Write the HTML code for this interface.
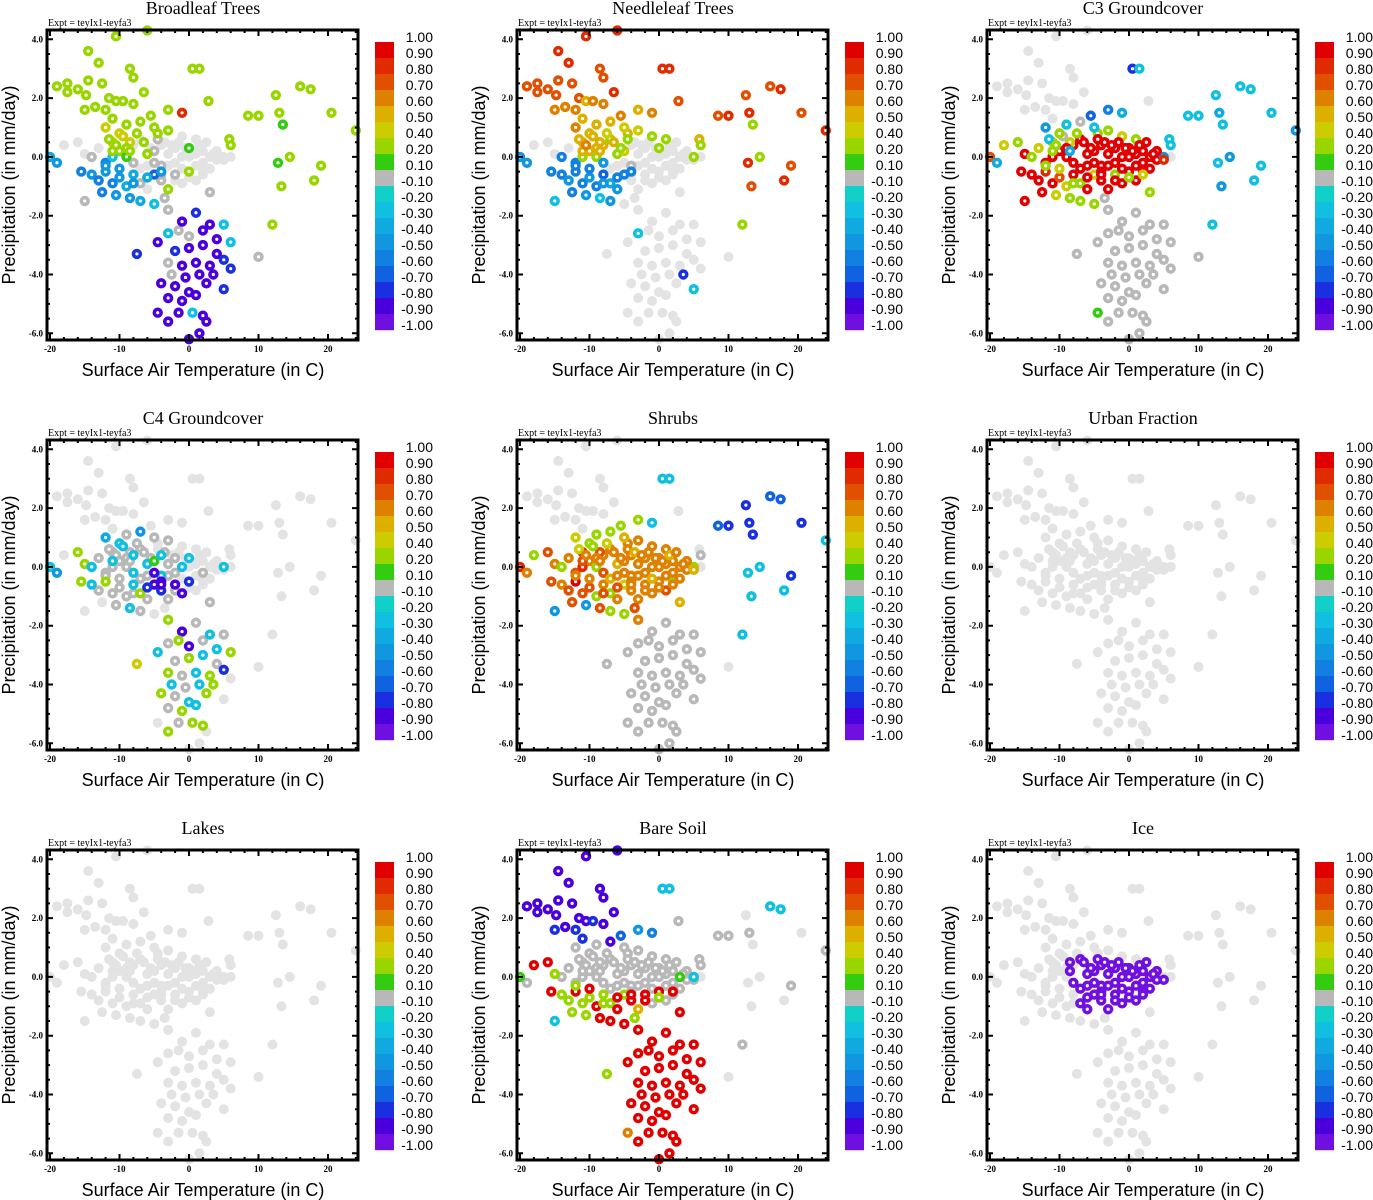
<!DOCTYPE html>
<html><head><meta charset="utf-8"><style>
html,body{margin:0;padding:0;background:#fff;}
svg{display:block;}
</style></head><body>
<svg id="fig" width="1373" height="1200" xmlns="http://www.w3.org/2000/svg"></svg>
<script>
const N = null;
// point cloud: surface air temperature (C) and precipitation (mm/day)
const temps = [
-19,-17.5,-16,-14.5,-14.5,-13,-12.5,-11.5,-10.5,-8.5,-8,-6.5,-6,-15,-13.5,-12,-10.5,-9.5,-8,-17.5,-14.8,-11,-5.5,-3,-1,0.5,1.5,2.8,-4.5,
-20,-19,-18,-16,-15,-14,-13,-12,-11,-10,-9,-8,-7,-6,-5,-4,-3,-2,-1,0,1,2,3,4,5,6,
-15.5,-14,-13,-12,-11,-10,-9,-8,-7,-6,-5,-4,-3,-2,-1,0,1,2,3,
-12.5,-10.5,-8.5,-7,-5,-3.5,-15,
-12,-10,-9,-7,-5,-3,-1,1,-8.5,-11,-4,
-3,-1,1,3,5,-4.5,-3,-1.5,0,2,4,6,-2,0,2,4,-7.5,-3,-1,1,3,5,-2.5,-0.5,1.5,3.5,6,-4,-2,0,2.5,5,-3,-1,1,-1.5,0.5,2,-4.5,-3,2.5,1.5,0,
8.5,10,12.5,13,13.5,16,17.5,20.5,24,14.5,12.8,19,18,13.3,12,10,5.8,6,
-12,-11,-10,-9,-8,-7,-6,-5,-4,-3,-2,-1,0,1,2,3,4,5,
-11.5,-10.5,-9.5,-8.5,-7.5,-6.5,-5.5,-4.5,-3.5,-2.5,-1.5,-0.5,0.5,1.5,2.5,3.5,
-6,-4,-2,0,2,-8
];
const precs = [
2.4,2.5,2.3,3.6,2.6,3.2,2.5,2.0,4.1,3.0,2.7,2.2,4.3,1.6,1.7,1.6,1.9,1.9,1.8,2.2,2.1,1.3,1.4,1.6,1.5,3.0,3.0,1.9,0.8,
0.0,-0.2,0.4,0.5,0.1,0.0,0.3,-0.2,0.5,0.2,0.0,0.4,0.6,0.1,0.2,0.4,0.1,0.3,0.0,0.3,0.1,0.2,0.0,-0.1,0.0,0.0,
-0.5,-0.6,-0.8,-0.5,-0.9,-0.7,-1.0,-0.6,-0.9,-1.1,-0.6,-0.8,-1.1,-0.6,-0.9,-0.5,-0.8,-0.5,-1.2,
-1.2,-1.3,-1.4,-1.5,-1.6,-1.4,-1.5,
1.0,0.8,1.1,1.2,1.0,0.9,0.7,0.6,0.5,0.0,-0.3,
-1.8,-2.2,-1.9,-2.3,-2.3,-2.9,-2.6,-2.5,-2.7,-2.5,-2.8,-2.9,-3.2,-3.1,-3.0,-3.3,-3.3,-3.6,-3.7,-3.6,-3.7,-3.5,-4.0,-4.1,-4.0,-4.0,-3.8,-4.3,-4.4,-4.6,-4.3,-4.5,-4.8,-4.9,-4.7,-5.3,-5.3,-5.4,-5.3,-5.6,-5.6,-6.0,-6.2,
1.4,1.4,2.1,1.5,1.1,2.4,2.3,1.5,0.9,0.0,-0.2,-0.3,-0.8,-1.0,-2.3,-3.4,0.6,0.4,
-0.3,0.2,-0.4,0.3,-0.2,-0.4,-0.3,-0.2,-0.5,-0.3,-0.2,-0.4,0.0,-0.3,-0.2,-0.4,0.2,-0.1,
0.6,0.4,0.7,0.2,0.8,0.5,0.3,0.6,0.5,0.4,0.5,0.3,0.2,0.4,0.5,0.1,
-0.7,-0.6,-0.8,-0.7,-0.6,-0.9
];
const broadleaf = [
.3,.3,.3,.3,.3,.3,.3,.3,.3,.3,.3,.3,.3,.3,.3,.3,.3,.3,.3,.3,.3,.2,.2,.3,.8,.3,.3,.3,.3,
-.4,-.5,N,N,N,0,N,-.6,.4,.3,.1,N,N,.2,0,N,N,N,N,.1,N,N,N,N,N,N,
-.6,-.5,-.6,-.5,-.6,-.5,-.4,-.4,0,N,-.7,0,.2,0,N,.3,N,N,0,
-.6,-.5,-.5,-.4,-.3,0,0,
.4,.4,.3,.3,.2,.2,N,N,.4,-.3,0,
0,-.9,-.8,-.9,-.3,-.9,-.3,0,0,-.9,-.9,-.3,-.8,-.9,-.9,-.9,-.8,0,-.9,-.9,-.9,-.8,0,-.9,-.9,-.9,-.8,-.9,-.9,-.9,-.9,-.8,-.9,-.9,-.9,-.9,-.3,-.9,-.9,-.9,-.9,-.9,-.9,
.3,.3,.3,.3,.1,.3,.3,.3,.3,.3,.1,.3,.3,.3,.3,0,.3,.3,
-.5,.3,-.5,.3,0,N,N,0,-.5,N,N,N,N,N,N,N,N,N,
.3,.3,.4,.3,.3,.3,N,0,N,N,N,N,N,N,N,N,
-.4,0,N,N,N,-.5
];
const needleleaf = [
.7,.7,.7,.8,.7,.8,.7,.7,.8,.7,.7,.8,.8,.6,.6,.6,.5,.6,.6,.7,.7,.5,.6,.5,.6,.8,.8,.7,.5,
-.5,-.5,N,N,N,-.6,N,-.6,.5,.5,.3,.5,.3,.2,.4,N,N,N,N,.3,N,N,N,N,.3,N,
-.6,-.6,-.5,-.6,-.6,-.5,-.6,-.7,-.4,-.5,-.6,N,N,N,N,N,N,N,N,
-.6,-.5,-.3,-.5,N,N,-.3,
.6,.5,.5,.5,.4,.4,.3,.2,.5,.2,0,
N,N,N,N,N,N,-.3,N,N,N,N,N,N,N,N,N,N,N,N,N,N,N,N,N,N,-.8,N,N,N,N,N,-.3,N,N,N,N,N,N,N,N,N,N,N,
.7,.8,.7,.8,.3,.7,.8,.7,.8,.3,.8,.7,.8,.7,.2,N,.5,.3,
-.6,.5,-.6,.5,-.5,N,N,N,-.6,N,N,N,N,N,N,N,N,N,
.5,.6,.5,.5,.4,.5,.3,.2,N,N,N,N,N,N,N,N,
-.6,N,N,N,N,-.5
];
const c3ground = [
N,N,N,N,N,N,N,N,N,N,N,N,N,N,N,N,N,N,N,N,N,N,-.7,-.6,-.4,-.8,-.3,N,.2,
.7,-.4,.4,.2,.9,.2,.4,.9,.4,.9,.9,.9,.9,.9,.9,.9,.9,.9,.9,.9,.9,.9,.9,.9,-.5,N,
.9,.9,.9,.8,.9,.7,.4,.9,.2,.9,.4,.9,.9,.3,.9,.9,.9,.9,.3,
.9,.4,.2,.3,.3,0,.9,
-.5,.3,-.3,0,-.3,.2,.4,.3,.4,.9,.9,
0,0,0,0,0,0,0,0,0,0,0,0,0,0,0,0,0,0,0,0,0,0,0,0,0,0,0,0,0,0,0,0,0,0,0,0,0,0,.1,0,0,0,0,
-.3,-.3,-.3,-.4,-.3,-.3,-.3,-.3,-.5,-.5,-.3,-.3,-.3,-.5,-.3,0,-.3,-.3,
.3,.2,.4,.9,.9,.9,.9,.9,.9,.9,.9,.9,.9,.9,.9,.9,.9,.8,
-.3,.2,0,-.4,.2,.9,.9,.9,.9,.9,.9,.9,.9,.9,.9,.9,
.9,.9,.9,.3,.4,.3
];
const c4ground = [
N,N,N,N,N,N,N,N,N,N,N,N,N,N,N,N,N,N,N,N,N,N,N,N,N,N,N,N,N,
-.3,-.5,N,.2,.3,-.3,0,0,0,0,0,-.3,0,-.3,.1,-.3,0,0,-.3,-.3,N,N,N,N,-.3,N,
.2,-.3,0,.3,0,0,0,-.3,.3,0,-.9,-.8,0,-.9,-.9,-.8,N,N,0,
N,0,-.3,0,N,N,N,
-.4,-.3,0,-.5,0,0,N,N,0,0,-.3,
.3,-.9,0,-.3,0,-.3,0,.3,-.9,0,-.3,.3,0,.3,-.3,0,.4,.3,0,-.3,.3,-.8,-.3,0,-.3,.3,N,.2,0,-.3,.3,N,0,.3,-.3,0,.3,.3,N,.3,N,N,N,
N,N,N,N,N,N,N,N,N,N,N,N,N,N,N,N,N,N,
0,-.3,0,0,-.3,0,0,-.9,-.9,0,0,N,N,N,0,N,N,N,
0,0,-.3,0,0,0,0,N,0,N,N,N,N,N,N,N,
-.8,-.9,0,N,N,0
];
const shrubs = [
N,N,N,N,N,N,N,N,N,N,N,N,N,N,N,N,N,N,N,N,N,N,.3,.2,-.3,-.3,-.3,N,.6,
.8,.6,.2,.7,.6,.3,.6,.7,.8,.6,.3,.6,.6,.5,.6,.6,.6,.6,.6,.6,.6,.6,.6,.6,.2,N,
.7,.6,.7,.9,.7,.7,.3,.6,.3,.6,.4,.6,.6,.6,.6,.6,.7,.2,.5,
.7,-.5,.7,.2,.3,.7,-.5,
.4,.3,.2,.3,.5,.6,.6,.6,.7,.8,.6,
.6,0,0,0,0,0,0,0,0,0,0,0,0,0,0,0,0,0,0,0,0,0,0,0,0,0,0,0,0,0,0,0,0,0,0,0,0,0,0,0,0,0,0,
-.7,-.8,-.8,-.8,-.8,-.7,-.7,-.8,-.3,-.3,-.3,-.8,-.3,-.3,-.3,N,N,0,
.6,.7,.6,.6,.7,.5,.6,.6,.6,.6,.6,.5,.6,.6,.6,.6,.6,.5,
.4,.6,.3,.6,.4,.6,.6,.6,.5,.6,.6,.6,.6,.5,.6,.6,
.7,.6,.6,.6,.6,.7
];
const urban = [
N,N,N,N,N,N,N,N,N,N,N,N,N,N,N,N,N,N,N,N,N,N,N,N,N,N,N,N,N,
N,N,N,N,N,N,N,N,N,N,N,N,N,N,N,N,N,N,N,N,N,N,N,N,N,N,
N,N,N,N,N,N,N,N,N,N,N,N,N,N,N,N,N,N,N,
N,N,N,N,N,N,N,
N,N,N,N,N,N,N,N,N,N,N,
N,N,N,N,N,N,N,N,N,N,N,N,N,N,N,N,N,N,N,N,N,N,N,N,N,N,N,N,N,N,N,N,N,N,N,N,N,N,N,N,N,N,N,
N,N,N,N,N,N,N,N,N,N,N,N,N,N,N,N,N,N,
N,N,N,N,N,N,N,N,N,N,N,N,N,N,N,N,N,N,
N,N,N,N,N,N,N,N,N,N,N,N,N,N,N,N,
N,N,N,N,N,N
];
const lakes = urban.slice();
const baresoil = [
-.9,-.9,-.9,-.9,-.9,-.9,-.9,-.9,-.9,-.9,-.9,-.9,-.9,-.8,-.9,-.8,-.9,-.8,-.9,-.9,-.9,-.8,-.7,-.5,-.6,-.3,-.3,0,0,
.1,0,.9,.9,.2,0,0,0,0,0,0,0,0,0,0,0,0,0,0,0,0,0,.1,0,-.3,N,
.9,.3,.2,.9,.3,.2,.9,.2,.3,.9,.2,.9,.5,.9,0,.9,0,.9,.9,
.2,.3,.9,.9,.9,.3,-.3,
0,0,0,-.9,0,0,0,0,0,0,0,
.9,.9,.9,.9,.9,.9,.9,.9,.9,.9,.9,.9,.9,.9,.9,.9,.3,.9,.9,.9,.9,.9,.9,.9,.9,.9,.9,.9,.9,.9,.9,.9,.9,.9,.9,.9,.9,.9,.6,.9,.9,.9,.9,
0,0,N,0,N,-.3,-.3,N,0,N,N,0,N,N,0,N,0,0,
.3,0,.9,0,0,0,0,0,0,0,0,0,0,0,0,0,0,0,
0,0,0,0,0,0,0,0,0,0,0,0,0,0,0,0,
.9,.9,.9,.2,0,.3
];
const ice = [
N,N,N,N,N,N,N,N,N,N,N,N,N,N,N,N,N,N,N,N,N,N,N,N,N,N,N,N,N,
N,N,N,N,N,N,N,N,N,N,N,N,-1,-1,-1,-1,-1,-1,-1,-1,-1,-1,-1,-1,N,N,
N,N,N,N,N,N,N,N,-1,-1,-1,-1,-1,-1,-1,-1,-1,-1,N,
N,N,N,N,N,N,N,
N,N,N,N,N,N,N,N,-1,N,-1,
N,N,N,N,N,N,N,N,N,N,N,N,N,N,N,N,N,N,N,N,N,N,N,N,N,N,N,N,N,N,N,N,N,N,N,N,N,N,N,N,N,N,N,
N,N,N,N,N,N,N,N,N,N,N,N,N,N,N,N,N,N,
N,N,N,N,-1,-1,-1,-1,-1,-1,-1,-1,-1,-1,-1,-1,-1,-1,
N,N,N,-1,N,-1,-1,-1,-1,-1,-1,-1,-1,-1,-1,-1,
-1,-1,-1,-1,-1,N
];
const panelTitles = ["Broadleaf Trees","Needleleaf Trees","C3 Groundcover","C4 Groundcover","Shrubs","Urban Fraction","Lakes","Bare Soil","Ice"];
const panelValues = [broadleaf,needleleaf,c3ground,c4ground,shrubs,urban,lakes,baresoil,ice];
const cbLabels = ["1.00","0.90","0.80","0.70","0.60","0.50","0.40","0.20","0.10","-0.10","-0.20","-0.30","-0.40","-0.50","-0.60","-0.70","-0.80","-0.90","-1.00"];
const cbLevels = [1.0,0.9,0.8,0.7,0.6,0.5,0.4,0.2,0.1,-0.1,-0.2,-0.3,-0.4,-0.5,-0.6,-0.7,-0.8,-0.9,-1.0];
const xTicks = [-20,-10,0,10,20];
const yTicks = [4,2,0,-2,-4,-6];
const colors = ["#e00000","#e02a00","#e05000","#de8000","#ddb000","#cccc00","#99d600","#33cc11","#b8b8b8","#11d0c8","#11c0e0","#11aae0","#1196e0","#1180e0","#1062e0","#1a30e0","#4a00dd","#7010e0"];

const svg = document.getElementById('fig');
const NS = "http://www.w3.org/2000/svg";
function mk(tag, attrs, parent){const e=document.createElementNS(NS,tag);for(const k in attrs)e.setAttribute(k,attrs[k]);(parent||svg).appendChild(e);return e;}
function band(v){for(let k=0;k<18;k++){if(v>=cbLevels[k+1]-1e-9)return k;}return 17;}

panelTitles.forEach((title,pi)=>{
  const ox=(pi%3)*470, oy=Math.floor(pi/3)*410;
  const L=47+ox,T=30+oy,R=358+ox,B=340+oy;
  const xs=v=>ox+50+(v+20)*6.95;
  const ys=v=>oy+39.3+(4-v)*29.4;
  const g=mk('g',{});
  
  
  const t=mk('text',{x:ox+203,y:oy+14,'text-anchor':'middle','font-family':'Liberation Serif, serif','font-size':'18'},g);
  t.textContent=title;
  
  
  const ex=mk('text',{x:L+1,y:T-4,'font-family':'Liberation Serif, serif','font-size':'10'},g);
  ex.textContent='Expt = teyIx1-teyfa3';
  
  
  const vals=panelValues[pi];
  const pg=mk('g',{},g);
  
  
  const order=[];
  vals.forEach((v,i)=>{if(v===null)order.push(i);});
  vals.forEach((v,i)=>{if(v!==null&&band(v)===8)order.push(i);});
  vals.forEach((v,i)=>{if(v!==null&&band(v)!==8)order.push(i);});
  order.forEach(i=>{
    const v=vals[i];const cx=xs(temps[i]),cy=ys(precs[i]);
    let c;
    if(v===null){c=mk('circle',{cx:cx,cy:cy,r:5,fill:'#e3e3e3'},pg);}
    else{c=mk('circle',{cx:cx,cy:cy,r:3.4,fill:'#fff',stroke:colors[band(v)],'stroke-width':3.6},pg);}
    
    
  });
  const fr=mk('rect',{x:L,y:T,width:R-L,height:B-T,fill:'none',stroke:'#000','stroke-width':3},g);
  
  
  let d='';
  for(let v=-20;v<=24;v+=2){const x=xs(v);const len=(v%10===0)?6:3;d+=`M${x},${B}v${-len}M${x},${T}v${len}`;}
  for(let v=-6;v<=4;v+=0.5){const y=ys(v);const len=(Math.abs(v%2)<1e-9)?6:3;d+=`M${L},${y}h${len}M${R},${y}h${-len}`;}
  const tk=mk('path',{d:d,stroke:'#000','stroke-width':2,fill:'none'},g);
  
  
  xTicks.forEach(v=>{const e=mk('text',{x:xs(v),y:B+12,'text-anchor':'middle','font-family':'Liberation Serif, serif','font-size':'9','font-weight':'bold'},g);e.textContent=String(v);
    
    });
  yTicks.forEach(v=>{const e=mk('text',{x:L-4,y:ys(v)+3,'text-anchor':'end','font-family':'Liberation Serif, serif','font-size':'9','font-weight':'bold'},g);e.textContent=v.toFixed(1);
    
    });
  const xt=mk('text',{x:ox+203,y:oy+376,'text-anchor':'middle','font-family':'Liberation Sans, sans-serif','font-size':'18'},g);
  xt.textContent='Surface Air Temperature (in C)';
  
  
  const yt=mk('text',{x:0,y:0,'text-anchor':'middle','font-family':'Liberation Sans, sans-serif','font-size':'18',transform:`translate(${ox+15},${oy+185}) rotate(-90)`},g);
  yt.textContent='Precipitation (in mm/day)';
  
  
  const cb=mk('g',{},g);
  
  
  colors.forEach((c,k)=>{const r=mk('rect',{x:ox+375,y:oy+42+k*16,width:19,height:16.2,fill:c},cb);
    
    });
  cbLabels.forEach((s,k)=>{const e=mk('text',{x:ox+433,y:oy+42+k*16,'text-anchor':'end','font-family':'Liberation Sans, sans-serif','font-size':'14'},cb);e.textContent=s;
    
    });
});
</script>
</body></html>
